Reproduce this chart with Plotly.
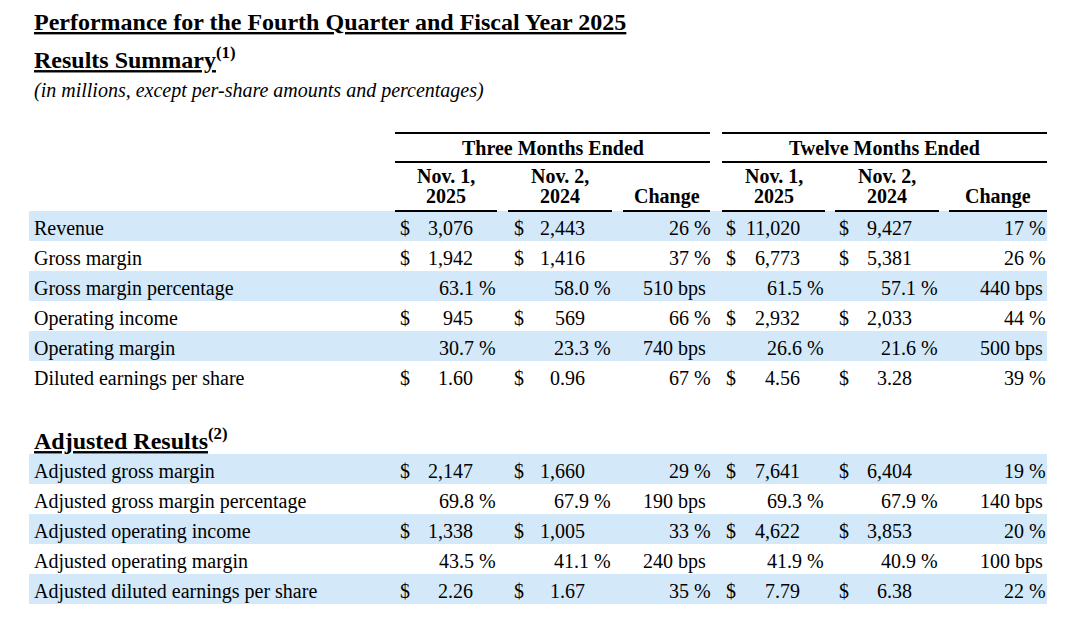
import plotly.graph_objects as go

# ---------------- data ----------------
title_text = "Performance for the Fourth Quarter and Fiscal Year 2025"
section1_title = "Results Summary"
section1_note = "(1)"
subtitle_text = "(in millions, except per-share amounts and percentages)"
section2_title = "Adjusted Results"
section2_note = "(2)"

group_headers = ["Three Months Ended", "Twelve Months Ended"]
col_headers_top = ["Nov. 1,", "Nov. 2,", "", "Nov. 1,", "Nov. 2,", ""]
col_headers_bottom = ["2025", "2024", "Change", "2025", "2024", "Change"]

main_labels = ["Revenue", "Gross margin", "Gross margin percentage",
               "Operating income", "Operating margin", "Diluted earnings per share"]
main_kind = ["usd", "usd", "pct", "usd", "pct", "eps"]
main_q_2025 = [3076, 1942, 63.1, 945, 30.7, 1.60]
main_q_2024 = [2443, 1416, 58.0, 569, 23.3, 0.96]
main_q_change = [26, 37, 510, 66, 740, 67]
main_fy_2025 = [11020, 6773, 61.5, 2932, 26.6, 4.56]
main_fy_2024 = [9427, 5381, 57.1, 2033, 21.6, 3.28]
main_fy_change = [17, 26, 440, 44, 500, 39]

adj_labels = ["Adjusted gross margin", "Adjusted gross margin percentage",
              "Adjusted operating income", "Adjusted operating margin",
              "Adjusted diluted earnings per share"]
adj_kind = ["usd", "pct", "usd", "pct", "eps"]
adj_q_2025 = [2147, 69.8, 1338, 43.5, 2.26]
adj_q_2024 = [1660, 67.9, 1005, 41.1, 1.67]
adj_q_change = [29, 190, 33, 240, 35]
adj_fy_2025 = [7641, 69.3, 4622, 41.9, 7.79]
adj_fy_2024 = [6404, 67.9, 3853, 40.9, 6.38]
adj_fy_change = [19, 140, 20, 100, 22]

# ---------------- layout constants ----------------
W, H = 1080, 625
PAGE_OFF = 8  # default body margin of the html page
FONT = "Liberation Serif"
TXT = "#000000"
BAND = "#d3e9f9"
FS = 20
ROW_H = 30
LABEL_X = 34
BAND_X0, BAND_X1 = 29, 1047
MAIN_TOP = 211
ADJ_TOP = 454

# value columns: ($ left, number right, pct right)
VAL_COLS = [(400, 472.5, 496), (514, 585, 611), (726, 800, 824), (839, 912, 938)]
CHG_COLS = [(711, 706), (1046, 1043)]  # (pct right, bps right)
GROUP_SPANS = [(395, 710), (722, 1047)]
COL_SPANS = [(395, 497), (508, 612), (623, 710), (722, 825), (835, 939), (949, 1047)]

fig = go.Figure()
annotations = []
shapes = []


def txt(x, y, s, anchor="left", size=FS, bold=False, italic=False):
    if bold:
        s = "<b>" + s + "</b>"
    if italic:
        s = "<i>" + s + "</i>"
    annotations.append(dict(x=x, y=y, xref="x", yref="y", text=s, showarrow=False,
                            xanchor=anchor, yanchor="middle", borderpad=0, borderwidth=0,
                            font=dict(family=FONT, size=size, color=TXT)))


def hline(x0, x1, y, w=2):
    shapes.append(dict(type="line", xref="x", yref="y", x0=x0, x1=x1, y0=y, y1=y,
                       line=dict(color="#000000", width=w)))


def fmt_val(v, kind):
    if kind == "usd":
        return f"{v:,.0f}"
    if kind == "eps":
        return f"{v:.2f}"
    return f"{v:.1f} %"


def fmt_chg(v, kind):
    return f"{v} bps" if kind == "pct" else f"{v} %"


def draw_rows(top, labels, kinds, q25, q24, qch, f25, f24, fch):
    for i, lab in enumerate(labels):
        yc = top + ROW_H * i + ROW_H / 2
        if i % 2 == 0:
            shapes.append(dict(type="rect", xref="x", yref="y", x0=BAND_X0, x1=BAND_X1,
                               y0=top + ROW_H * i, y1=top + ROW_H * (i + 1),
                               fillcolor=BAND, line=dict(width=0), layer="below"))
        ty = yc + 2
        txt(LABEL_X, ty, lab)
        k = kinds[i]
        for (dx, nr, pr), v in zip(VAL_COLS, [q25[i], q24[i], f25[i], f24[i]]):
            if k == "pct":
                txt(pr, ty, fmt_val(v, k), anchor="right")
            else:
                txt(dx, ty, "$")
                txt(nr, ty, fmt_val(v, k), anchor="right")
        for (pr, br), v in zip(CHG_COLS, [qch[i], fch[i]]):
            txt(br if k == "pct" else pr, ty, fmt_chg(v, k), anchor="right")


# titles
txt(LABEL_X, 22, "<u>" + title_text + "</u>", size=24, bold=True)
txt(LABEL_X, 58, "<u>" + section1_title + "</u><sup>" + section1_note + "</sup>", size=24, bold=True)
txt(LABEL_X, 90, subtitle_text, size=20, italic=True)
txt(LABEL_X, 439, "<u>" + section2_title + "</u><sup>" + section2_note + "</sup>", size=24, bold=True)

# header
for (x0, x1), g in zip(GROUP_SPANS, group_headers):
    hline(x0, x1, 133)
    hline(x0, x1, 162)
    txt((x0 + x1) / 2, 148, g, anchor="center", bold=True)
for (x0, x1), t, b in zip(COL_SPANS, col_headers_top, col_headers_bottom):
    hline(x0, x1, 211)
    if t:
        txt((x0 + x1) / 2, 176, t, anchor="center", bold=True)
    txt((x0 + x1) / 2, 196, b, anchor="center", bold=True)

draw_rows(MAIN_TOP, main_labels, main_kind, main_q_2025, main_q_2024, main_q_change,
          main_fy_2025, main_fy_2024, main_fy_change)
draw_rows(ADJ_TOP, adj_labels, adj_kind, adj_q_2025, adj_q_2024, adj_q_change,
          adj_fy_2025, adj_fy_2024, adj_fy_change)

fig.update_layout(
    width=W, height=H,
    margin=dict(l=0, r=0, t=0, b=0),
    paper_bgcolor="white", plot_bgcolor="white",
    xaxis=dict(range=[PAGE_OFF, W + PAGE_OFF], visible=False, fixedrange=True),
    yaxis=dict(range=[H + PAGE_OFF, PAGE_OFF], visible=False, fixedrange=True),
    annotations=annotations, shapes=shapes, showlegend=False,
)
fig.write_html("out.html", config={"displayModeBar": False})
